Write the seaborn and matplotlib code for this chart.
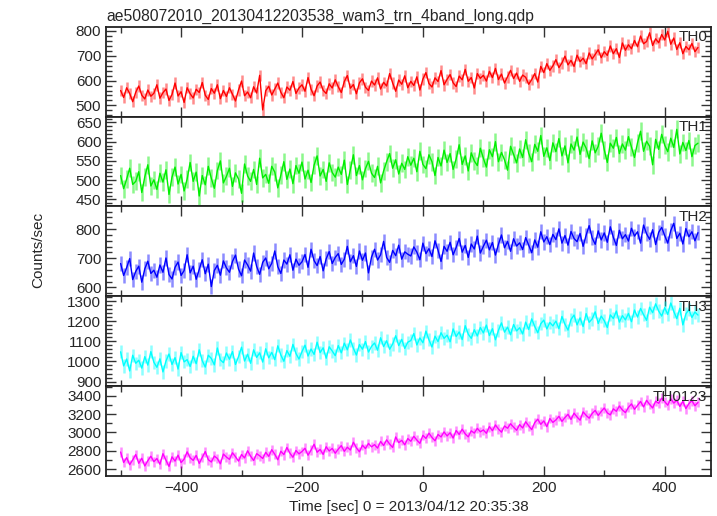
import numpy as np
import pandas as pd
import matplotlib
matplotlib.use("Agg")
import matplotlib.pyplot as plt
from matplotlib.ticker import MultipleLocator
import seaborn as sns

# time bins (sec from 2013/04/12 20:35:38), 5 s steps
time_sec = np.arange(-500, 456, 5)

th0 = [560, 532, 571, 548, 515, 553, 578, 541, 526, 562, 537, 549,
       583, 529, 551, 566, 520, 544, 590, 538, 555, 512, 571, 547,
       530, 565, 552, 592, 541, 524, 568, 549, 583, 527, 560, 536,
       571, 545, 518, 562, 598, 539, 554, 531, 575, 550, 621, 482,
       559, 577, 542, 566, 590, 553, 531, 574, 561, 596, 548, 570,
       583, 557, 612, 565, 539, 578, 594, 561, 548, 587, 570, 603,
       575, 552, 596, 620, 569, 584, 547, 591, 607, 573, 560, 598,
       582, 611, 566, 593, 578, 628, 590, 557, 602, 585, 619, 571,
       597, 580, 615, 562, 606, 632, 588, 574, 611, 596, 640, 583,
       605, 624, 591, 576, 618, 603, 645, 597, 612, 570, 628, 609,
       621, 598, 637, 612, 649, 604, 626, 590, 615, 641, 608, 630,
       597, 622, 613, 585, 604, 628, 594, 657, 632, 668, 641, 659,
       684, 652, 671, 698, 663, 681, 657, 702, 676, 690, 668, 711,
       687, 705, 724, 692, 716, 701, 739, 708, 728, 693, 751, 722,
       744, 728, 761, 736, 779, 748, 757, 792, 741, 768, 752, 785,
       763, 798, 746, 771, 725, 752, 708, 737, 724, 749, 716, 733]

th1 = [512, 478, 503, 531, 489, 497, 522, 468, 509, 540, 485, 501,
       476, 518, 495, 527, 463, 508, 534, 490, 515, 472, 503, 546,
       497, 521, 459, 512, 488, 536, 505, 479, 525, 550, 493, 510,
       531, 484, 519, 503, 466, 542, 511, 497, 528, 489, 557, 506,
       515, 492, 536, 521, 480, 513, 548, 502, 529, 491, 538, 518,
       547, 503, 526, 494, 539, 563, 511, 528, 497, 545, 520, 508,
       534, 515, 552, 489, 527, 566, 512, 538, 501, 530, 549, 518,
       507, 536, 493, 524, 548, 569, 531, 553, 516, 544, 528, 561,
       539, 557, 522, 575, 541, 530, 566, 548, 512, 559, 537, 578,
       546, 569, 528, 555, 592, 541, 563, 524, 571, 550, 538, 583,
       557, 534, 579, 561, 600, 548, 572, 553, 526, 588, 567, 545,
       581, 559, 605, 570, 548, 593, 575, 616, 562, 584, 551, 597,
       574, 608, 563, 589, 545, 594, 578, 612, 567, 599, 583, 556,
       602, 571, 588, 622, 579, 546, 596, 583, 611, 569, 594, 578,
       613, 586, 559, 597, 627, 575, 601, 588, 540, 606, 580, 619,
       591, 574, 609, 585, 632, 568, 598, 577, 603, 561, 590, 596]

th2 = [682, 641, 668, 699, 627, 655, 673, 618, 664, 690, 648, 659,
       635, 677, 652, 701, 644, 629, 669, 687, 641, 658, 712, 650,
       673, 628, 661, 695, 647, 680, 603, 658, 676, 642, 691, 667,
       652, 689, 711, 663, 640, 694, 677, 656, 718, 672, 645, 686,
       701, 664, 683, 725, 671, 648, 694, 680, 712, 659, 697, 676,
       688, 713, 669, 731, 692, 675, 706, 657, 698, 723, 682, 703,
       716, 679, 697, 741, 688, 709, 672, 725, 693, 718, 650, 704,
       731, 694, 712, 758, 703, 686, 727, 709, 745, 697, 722, 714,
       708, 739, 721, 695, 752, 716, 733, 706, 760, 728, 689, 741,
       724, 755, 712, 737, 768, 721, 744, 703, 749, 732, 776, 718,
       741, 762, 729, 754, 711, 748, 780, 736, 758, 724, 767, 742,
       753, 730, 771, 745, 719, 763, 738, 791, 756, 774, 747, 782,
       764, 801, 752, 778, 745, 792, 768, 757, 785, 741, 779, 812,
       770, 748, 794, 763, 787, 755, 808, 772, 744, 796, 767, 781,
       759, 803, 776, 791, 752, 814, 784, 765, 798, 747, 789, 806,
       778, 752, 795, 820, 768, 786, 749, 802, 774, 791, 760, 788]

th3 = [1048, 978, 1012, 953, 1031, 991, 1006, 967, 1024, 982, 1049, 996,
       971, 1013, 948, 1002, 1037, 985, 1019, 962, 1044, 998, 1009, 975,
       1026, 989, 1058, 1004, 972, 1031, 1015, 983, 1067, 1008, 994, 1042,
       1011, 1049, 985, 1024, 1071, 1002, 1036, 991, 1058, 1020, 1043, 997,
       1063, 1018, 1045, 1009, 1078, 1032, 1001, 1054, 1026, 1085, 1040, 1012,
       1049, 1081, 1027, 1062, 1035, 1096, 1044, 1068, 1016, 1073, 1052, 1029,
       1079, 1043, 1091, 1058, 1107, 1066, 1032, 1084, 1061, 1099, 1047, 1075,
       1092, 1056, 1118, 1074, 1103, 1061, 1087, 1128, 1079, 1110, 1065, 1096,
       1104, 1139, 1082, 1117, 1093, 1151, 1108, 1072, 1126, 1099, 1143, 1115,
       1131, 1098, 1162, 1124, 1147, 1109, 1178, 1136, 1115, 1158, 1127, 1169,
       1142, 1181, 1129, 1163, 1108, 1155, 1192, 1146, 1171, 1133, 1184, 1152,
       1168, 1137, 1196, 1159, 1212, 1174, 1143, 1188, 1206, 1162, 1194, 1177,
       1201, 1163, 1224, 1185, 1156, 1209, 1231, 1182, 1217, 1174, 1238, 1195,
       1212, 1247, 1189, 1226, 1203, 1169, 1232, 1214, 1251, 1196, 1228, 1207,
       1239, 1198, 1256, 1221, 1264, 1233, 1205, 1270, 1243, 1287, 1251, 1226,
       1268, 1234, 1291, 1249, 1213, 1265, 1182, 1237, 1258, 1219, 1246, 1231]

th0123 = [2786, 2672, 2725, 2648, 2701, 2759, 2663, 2718, 2634, 2692, 2740, 2681,
          2715, 2653, 2768, 2697, 2629, 2734, 2687, 2752, 2671, 2708, 2788, 2724,
          2695, 2749, 2662, 2726, 2791, 2703, 2677, 2742, 2716, 2658, 2764, 2731,
          2706, 2778, 2735, 2687, 2759, 2722, 2800, 2741, 2694, 2768, 2745, 2716,
          2783, 2739, 2812, 2761, 2702, 2795, 2758, 2836, 2774, 2729, 2803, 2766,
          2792, 2827, 2751, 2808, 2871, 2784, 2815, 2760, 2844, 2797, 2826, 2773,
          2818, 2856, 2794, 2839, 2808, 2893, 2832, 2789, 2861, 2824, 2880, 2843,
          2867, 2829, 2902, 2858, 2919, 2873, 2836, 2951, 2889, 2914, 2865, 2933,
          2904, 2958, 2917, 2881, 2969, 2935, 2992, 2946, 2909, 2978, 2951, 3006,
          2962, 2997, 2939, 3021, 2978, 3036, 2984, 2952, 3018, 2993, 3045, 3007,
          3028, 2991, 3064, 3019, 3082, 3037, 3003, 3071, 3046, 3095, 3058, 3024,
          3086, 3049, 3117, 3072, 3031, 3108, 3145, 3089, 3126, 3064, 3152, 3110,
          3137, 3176, 3121, 3163, 3198, 3142, 3211, 3169, 3134, 3225, 3187, 3156,
          3208, 3241, 3186, 3229, 3267, 3214, 3192, 3258, 3231, 3289, 3246, 3217,
          3274, 3312, 3253, 3296, 3338, 3279, 3351, 3307, 3268, 3342, 3319, 3375,
          3336, 3298, 3369, 3321, 3352, 3284, 3340, 3261, 3315, 3347, 3292, 3328]

bands = ["TH0", "TH1", "TH2", "TH3", "TH0123"]
series = [th0, th1, th2, th3, th0123]
errors = [23, 23, 26, 33, 54]  # typical 1-sigma per band
colors = ["#ff0000", "#00ee00", "#0000ff", "#00ffff", "#ff00ff"]
ylims = [(455, 816), (432, 665), (570, 878), (878, 1325), (2527, 3508)]
ymajor = [100, 50, 100, 100, 200]
yminor = [20, 10, 20, 20, 100]

sns.set_style("ticks")
plt.rcParams["font.family"] = ["Liberation Sans", "DejaVu Sans"]

fig, axes = plt.subplots(5, 1, sharex=True, figsize=(7.17, 5.16), dpi=100)
fig.subplots_adjust(left=0.148, right=0.992, top=0.948, bottom=0.078, hspace=0)

for ax, name, vals, err, col, yl, ma, mi in zip(axes, bands, series, errors, colors,
                                                ylims, ymajor, yminor):
    df = pd.DataFrame({"time": time_sec, "rate": vals})
    ax.errorbar(df["time"], df["rate"], yerr=err, fmt="none", ecolor=col,
                alpha=0.45, lw=1.8)
    sns.lineplot(data=df, x="time", y="rate", ax=ax, color=col, lw=1.0,
                 estimator=None)
    ax.set_ylim(*yl)
    ax.set_xlim(-524, 477)
    ax.yaxis.set_major_locator(MultipleLocator(ma))
    ax.yaxis.set_minor_locator(MultipleLocator(mi))
    ax.xaxis.set_major_locator(MultipleLocator(200))
    ax.xaxis.set_minor_locator(MultipleLocator(100))
    ax.tick_params(which="both", direction="in", top=True, right=True,
                   labelsize=11, width=1.0, color="#333333")
    ax.tick_params(which="major", length=7)
    ax.tick_params(which="minor", length=4)
    ax.set_xlabel("")
    ax.set_ylabel("")
    for sp in ax.spines.values():
        sp.set_linewidth(1.3)
        sp.set_color("#222222")
    ax.text(0.993, 0.96, name, transform=ax.transAxes, ha="right", va="top",
            fontsize=11)

axes[0].set_title("ae508072010_20130412203538_wam3_trn_4band_long.qdp",
                  loc="left", fontsize=11.3, pad=4)
axes[-1].set_xlabel("Time [sec] 0 = 2013/04/12 20:35:38", fontsize=11, labelpad=4)
fig.text(0.053, 0.515, "Counts/sec", rotation=90, ha="center", va="center",
         fontsize=11)

fig.savefig("out.png", dpi=100)
